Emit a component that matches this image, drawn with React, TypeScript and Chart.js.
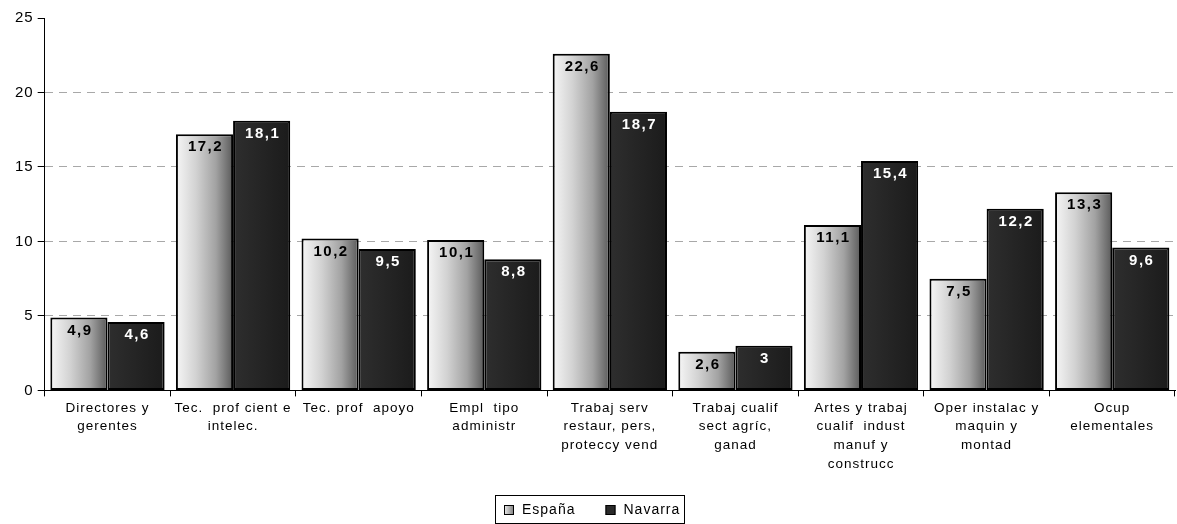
import React, { useEffect, useRef } from 'react';
import { Chart, registerables } from 'chart.js';

Chart.register(...registerables);

const categories: string[][] = [
  ['Directores y', 'gerentes'],
  ['Tec.  prof cient e', 'intelec.'],
  ['Tec. prof  apoyo'],
  ['Empl  tipo', 'administr'],
  ['Trabaj serv', 'restaur, pers,', 'proteccy vend'],
  ['Trabaj cualif', 'sect agríc,', 'ganad'],
  ['Artes y trabaj', 'cualif  indust', 'manuf y', 'construcc'],
  ['Oper instalac y', 'maquin y', 'montad'],
  ['Ocup', 'elementales'],
];
const espana: number[] = [4.9, 17.2, 10.2, 10.1, 22.6, 2.6, 11.1, 7.5, 13.3];
const navarra: number[] = [4.6, 18.1, 9.5, 8.8, 18.7, 3, 15.4, 12.2, 9.6];
const seriesNames: string[] = ['España', 'Navarra'];
const yMin = 0;
const yMax = 25;
const yStep = 5;

const FONT = "'Liberation Sans', Arial, Helvetica, sans-serif";
const CAT_PCT = 0.91;

function barFill(ctx: any, datasetIndex: number) {
  const chart = ctx.chart;
  const xs = chart.scales && chart.scales.x;
  if (!xs || ctx.dataIndex === undefined || !chart.chartArea) {
    return datasetIndex === 0 ? '#b8b8b8' : '#242424';
  }
  const catW = xs.width / categories.length;
  const center = xs.getPixelForValue(ctx.dataIndex);
  const bw = (catW * CAT_PCT) / 2;
  const left = datasetIndex === 0 ? center - bw : center;
  const g = chart.ctx.createLinearGradient(left, 0, left + bw, 0);
  if (datasetIndex === 0) {
    g.addColorStop(0, '#f6f6f6');
    g.addColorStop(0.35, '#d2d2d2');
    g.addColorStop(0.7, '#a2a2a2');
    g.addColorStop(1, '#5a5a5a');
  } else {
    g.addColorStop(0, '#2e2e2e');
    g.addColorStop(1, '#1b1b1b');
  }
  return g;
}

const spacing = {
  id: 'spacing',
  beforeInit(chart: any) {
    chart.ctx.letterSpacing = '1px';
  },
  beforeUpdate(chart: any) {
    chart.ctx.letterSpacing = '1px';
  },
  beforeDraw(chart: any) {
    chart.ctx.letterSpacing = '1px';
  },
};

const valueLabels = {
  id: 'valueLabels',
  afterDatasetsDraw(chart: any) {
    const c = chart.ctx;
    chart.data.datasets.forEach((ds: any, di: number) => {
      const meta = chart.getDatasetMeta(di);
      meta.data.forEach((el: any, i: number) => {
        const v = ds.data[i];
        c.save();
        c.letterSpacing = '1.5px';
        c.font = `bold 15px ${FONT}`;
        c.fillStyle = di === 0 ? '#000000' : '#ffffff';
        c.textAlign = 'center';
        c.textBaseline = 'middle';
        c.fillText(String(v).replace('.', ','), el.x + 1, el.y + 13);
        c.restore();
      });
    });
  },
};

const boxedLegend = {
  id: 'boxedLegend',
  afterDraw(chart: any) {
    const c = chart.ctx;
    c.save();
    c.letterSpacing = '1px';
    c.font = `14px ${FONT}`;
    const sq = 10;
    const gapText = 8;
    const gapItems = 30;
    const widths = seriesNames.map((n) => c.measureText(n).width);
    const boxLeft = 495;
    const boxTop = 495;
    const boxH = 28;
    let x = boxLeft + 9;
    const cy = boxTop + boxH / 2 + 1;
    seriesNames.forEach((n, i) => {
      const sy = Math.round(cy - sq / 2);
      if (i === 0) {
        const g = c.createLinearGradient(x, 0, x + sq, 0);
        g.addColorStop(0, '#eeeeee');
        g.addColorStop(1, '#7a7a7a');
        c.fillStyle = g;
      } else {
        c.fillStyle = '#2a2a2a';
      }
      c.fillRect(x, sy, sq, sq);
      c.strokeStyle = '#000';
      c.lineWidth = 1;
      c.strokeRect(x + 0.5, sy + 0.5, sq - 1, sq - 1);
      c.fillStyle = '#000';
      c.textAlign = 'left';
      c.textBaseline = 'middle';
      c.fillText(n, x + sq + gapText, cy);
      x += sq + gapText + widths[i] + (i < seriesNames.length - 1 ? gapItems : 0);
    });
    c.strokeStyle = '#000';
    c.lineWidth = 1;
    c.strokeRect(boxLeft + 0.5, boxTop + 0.5, Math.round(x + 4 - boxLeft), boxH);
    c.restore();
  },
};

export default function App() {
  const ref = useRef<HTMLCanvasElement | null>(null);
  useEffect(() => {
    if (!ref.current) return;
    const chart = new Chart(ref.current, {
      type: 'bar',
      data: {
        labels: categories,
        datasets: [
          {
            label: seriesNames[0],
            data: espana,
            backgroundColor: (ctx: any) => barFill(ctx, 0),
            borderColor: '#000000',
            borderWidth: 2,
            borderSkipped: false,
            categoryPercentage: CAT_PCT,
            barPercentage: 1,
          },
          {
            label: seriesNames[1],
            data: navarra,
            backgroundColor: (ctx: any) => barFill(ctx, 1),
            borderColor: '#000000',
            borderWidth: 2,
            borderSkipped: false,
            categoryPercentage: CAT_PCT,
            barPercentage: 1,
          },
        ],
      },
      options: {
        responsive: false,
        animation: false,
        devicePixelRatio: 1,
        layout: { padding: { left: 11, right: 2, top: 18, bottom: 48 } },
        plugins: {
          legend: { display: false },
          tooltip: { enabled: false },
        },
        scales: {
          x: {
            offset: true,
            grid: {
              offset: true,
              drawOnChartArea: false,
              drawTicks: true,
              tickLength: 6,
              color: '#000000',
            },
            border: { display: true, color: '#000000', width: 1 },
            ticks: {
              color: '#000000',
              font: { family: FONT, size: 13.5, lineHeight: 1.4 },
              maxRotation: 0,
              autoSkip: false,
              padding: 2,
            },
          },
          y: {
            min: yMin,
            max: yMax,
            ticks: {
              stepSize: yStep,
              color: '#000000',
              font: { family: FONT, size: 15 },
              padding: 4,
            },
            grid: {
              color: (ctx: any) =>
                ctx.tick && (ctx.tick.value === yMin || ctx.tick.value === yMax) ? 'rgba(0,0,0,0)' : '#a8a8a8',
              lineWidth: 1,
              drawTicks: true,
              tickLength: 7,
              tickColor: '#000000',
            },
            border: { display: true, color: '#000000', width: 1, dash: [8, 6] },
          },
        },
      },
      plugins: [spacing, valueLabels, boxedLegend],
    });
    return () => chart.destroy();
  }, []);
  return (
    <div style={{ position: 'absolute', left: 0, top: 0, width: 1177, height: 524, background: '#fff' }}>
      <canvas ref={ref} width={1177} height={524} style={{ display: 'block' }} />
    </div>
  );
}
